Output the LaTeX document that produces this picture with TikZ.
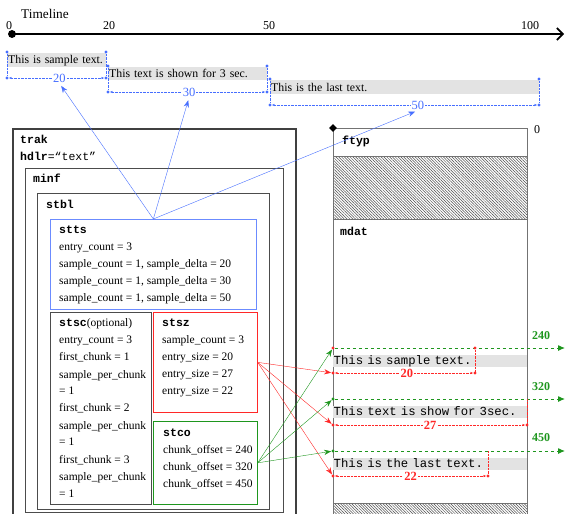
\documentclass[tikz,border=0pt]{standalone}
\usepackage{fontspec}
\setmainfont{Liberation Serif}
\setmonofont{Liberation Mono}
\usepackage{tikz}
\usetikzlibrary{calc}
\usetikzlibrary{positioning}
\usetikzlibrary{shapes.geometric}
\usetikzlibrary{patterns.meta}
\usetikzlibrary{arrows.meta}
\definecolor{dimBlue}{RGB}{70,110,255}
\definecolor{offGreen}{RGB}{30,150,30}
\definecolor{sizeRed}{RGB}{255,40,40}
\tikzstyle{box} = [draw, rectangle, anchor=north west, inner sep=0pt]
\tikzstyle{boxtext} = [anchor=west, inner sep=0pt, text height=1.5ex, text depth=.25ex, font=\fontsize{11.5}{13}\selectfont]
\tikzstyle{boxtitle} = [anchor=west, inner sep=0pt, text height=1.5ex, text depth=.25ex, font=\fontsize{11.5}{13}\ttfamily\bfseries]
\tikzstyle{subbar} = [fill=black!11, anchor=north west, inner sep=1pt, align=left, font=\fontsize{11.8}{13}\selectfont]
\tikzstyle{monobar} = [fill=black!11, anchor=north west, inner sep=0.5pt, align=left, text height=1.5ex, text depth=.25ex, font=\fontsize{12.3}{13}\ttfamily]
\tikzstyle{hatch} = [draw=black!55, pattern={Lines[angle=-45, distance=2pt, line width=0.5pt]}, pattern color=black!70]
\tikzstyle{handle} = [circle, fill, inner sep=1.2pt]
\tikzstyle{dimlabel} = [fill=white, inner sep=1pt, font=\fontsize{12.5}{13}\selectfont]
\tikzstyle{dimBlueLine} = [dimBlue, densely dotted, {Stealth[length=3pt]}-{Stealth[length=3pt]}]
\tikzstyle{dimRedLine} = [sizeRed, densely dotted, {Stealth[length=3pt]}-{Stealth[length=3pt]}]

\begin{document}
\begin{tikzpicture}[x=1pt, y=-1pt]
    \useasboundingbox (0,0) rectangle (565,514);

    % timeline on top
    \node[font=\fontsize{13.3}{15}\selectfont] (tl_title) at (45,14) {Timeline};
    \node[circle, fill, inner sep=2.8pt] (tl_start) at (12,34) {};
    \coordinate (tl_end) at (564,34);
    \draw[line width=1.6pt, -{Straight Barb[length=6pt, width=12pt]}] (tl_start.center) -- (tl_end);
    \node[font=\fontsize{12}{13}\selectfont] (tl_0) at (9,26) {0};
    \node[font=\fontsize{12}{13}\selectfont] (tl_20) at (109,26) {20};
    \node[font=\fontsize{12}{13}\selectfont] (tl_50) at (269,26) {50};
    \node[font=\fontsize{12}{13}\selectfont] (tl_100) at (530,26) {100};

    % subtitles shown on the timeline
    \node[subbar, minimum width=99, minimum height=14, text width=97] (sub1_text) at (7,53) {This is sample text.};
    \node[subbar, minimum width=159, minimum height=13, text width=157] (sub2_text) at (108,67) {This text is shown for 3 sec.};
    \node[subbar, minimum width=269, minimum height=14, text width=267] (sub3_text) at (270,80) {This is the last text.};

    \node[handle, dimBlue] (s1_tl) at (7,52) {};
    \node[handle, dimBlue] (s1_tr) at (106,52) {};
    \node[handle, dimBlue] (s1_bl) at (7,78) {};
    \node[handle, dimBlue] (s1_br) at (106,78) {};
    \draw[dimBlue, densely dotted] (s1_tl) -- (s1_bl);
    \draw[dimBlue, densely dotted] (s1_tr) -- (s1_br);
    \draw[dimBlueLine] (s1_bl) -- (s1_br);
    \node[dimlabel, text=dimBlue] (s1_len) at ($(s1_bl)!0.53!(s1_br)$) {20};

    \node[handle, dimBlue] (s2_tl) at (108,66) {};
    \node[handle, dimBlue] (s2_tr) at (267,66) {};
    \node[handle, dimBlue] (s2_bl) at (108,92) {};
    \node[handle, dimBlue] (s2_br) at (267,92) {};
    \draw[dimBlue, densely dotted] (s2_tl) -- (s2_bl);
    \draw[dimBlue, densely dotted] (s2_tr) -- (s2_br);
    \draw[dimBlueLine] (s2_bl) -- (s2_br);
    \node[dimlabel, text=dimBlue] (s2_len) at ($(s2_bl)!0.51!(s2_br)$) {30};

    \node[handle, dimBlue] (s3_tl) at (270,79) {};
    \node[handle, dimBlue] (s3_tr) at (539,79) {};
    \node[handle, dimBlue] (s3_bl) at (270,105) {};
    \node[handle, dimBlue] (s3_br) at (539,105) {};
    \draw[dimBlue, densely dotted] (s3_tl) -- (s3_bl);
    \draw[dimBlue, densely dotted] (s3_tr) -- (s3_br);
    \draw[dimBlueLine] (s3_bl) -- (s3_br);
    \node[dimlabel, text=dimBlue] (s3_len) at ($(s3_bl)!0.55!(s3_br)$) {50};

    % trak box and its children
    \node[box, draw=black!75, line width=1.5pt, minimum width=283, minimum height=400] (trak_box) at (12,128) {};
    \node[boxtitle] (trak_name) at ($(trak_box.north west)+(8,13)$) {trak};
    \node[boxtitle] (hdlr_name) at ($(trak_box.north west)+(8,30)$) {hdlr\mdseries=“text”};

    \node[box, draw=black!70, line width=0.8pt, minimum width=258, minimum height=344] (minf_box) at (25,168) {};
    \node[boxtitle] (minf_name) at ($(minf_box.north west)+(8,12)$) {minf};

    \node[box, draw=black!70, line width=0.8pt, minimum width=232, minimum height=316] (stbl_box) at (37,193) {};
    \node[boxtitle] (stbl_name) at ($(stbl_box.north west)+(9,13)$) {stbl};

    \node[box, draw=dimBlue!80, line width=0.7pt, minimum width=206, minimum height=90] (stts_box) at (50,219) {};
    \node[boxtitle] (stts_name) at ($(stts_box.north west)+(9,12)$) {stts};
    \node[boxtext] (stts_l1) at ($(stts_box.north west)+(9,29)$) {entry\_count = 3};
    \node[boxtext] (stts_l2) at ($(stts_box.north west)+(9,46)$) {sample\_count = 1, sample\_delta = 20};
    \node[boxtext] (stts_l3) at ($(stts_box.north west)+(9,63)$) {sample\_count = 1, sample\_delta = 30};
    \node[boxtext] (stts_l4) at ($(stts_box.north west)+(9,80)$) {sample\_count = 1, sample\_delta = 50};

    \node[box, draw=black!70, line width=0.8pt, minimum width=101, minimum height=192] (stsc_box) at (50,312) {};
    \node[boxtitle] (stsc_name) at ($(stsc_box.north west)+(9,12)$) {stsc\mdseries\rmfamily(optional)};
    \node[boxtext] (stsc_l1) at ($(stsc_box.north west)+(9,29)$) {entry\_count = 3};
    \node[boxtext] (stsc_l2) at ($(stsc_box.north west)+(9,46)$) {first\_chunk = 1};
    \node[boxtext] (stsc_l3) at ($(stsc_box.north west)+(9,64)$) {sample\_per\_chunk};
    \node[boxtext] (stsc_l4) at ($(stsc_box.north west)+(9,80)$) {= 1};
    \node[boxtext] (stsc_l5) at ($(stsc_box.north west)+(9,97)$) {first\_chunk = 2};
    \node[boxtext] (stsc_l6) at ($(stsc_box.north west)+(9,115)$) {sample\_per\_chunk};
    \node[boxtext] (stsc_l7) at ($(stsc_box.north west)+(9,131)$) {= 1};
    \node[boxtext] (stsc_l8) at ($(stsc_box.north west)+(9,149)$) {first\_chunk = 3};
    \node[boxtext] (stsc_l9) at ($(stsc_box.north west)+(9,166)$) {sample\_per\_chunk};
    \node[boxtext] (stsc_l10) at ($(stsc_box.north west)+(9,183)$) {= 1};

    \node[box, draw=sizeRed, line width=0.7pt, minimum width=104, minimum height=100] (stsz_box) at (153,312) {};
    \node[boxtitle] (stsz_name) at ($(stsz_box.north west)+(9,12)$) {stsz};
    \node[boxtext] (stsz_l1) at ($(stsz_box.north west)+(9,29)$) {sample\_count = 3};
    \node[boxtext] (stsz_l2) at ($(stsz_box.north west)+(9,46)$) {entry\_size = 20};
    \node[boxtext] (stsz_l3) at ($(stsz_box.north west)+(9,63)$) {entry\_size = 27};
    \node[boxtext] (stsz_l4) at ($(stsz_box.north west)+(9,80)$) {entry\_size = 22};

    \node[box, draw=offGreen, line width=0.7pt, minimum width=104, minimum height=83] (stco_box) at (153,421) {};
    \node[boxtitle] (stco_name) at ($(stco_box.north west)+(10,13)$) {stco};
    \node[boxtext] (stco_l1) at ($(stco_box.north west)+(10,30)$) {chunk\_offset = 240};
    \node[boxtext] (stco_l2) at ($(stco_box.north west)+(10,47)$) {chunk\_offset = 320};
    \node[boxtext] (stco_l3) at ($(stco_box.north west)+(10,64)$) {chunk\_offset = 450};

    % the file itself
    \node[box, draw=black!55, line width=1.2pt, minimum width=194, minimum height=400] (file_box) at (333,128) {};
    \node[diamond, fill, inner sep=2pt] (file_start) at (333,128) {};
    \node[font=\fontsize{12}{13}\selectfont] (file_zero) at (537,130) {0};
    \node[boxtitle] (ftyp_name) at ($(file_box.north west)+(9,14)$) {ftyp};
    \node[box, hatch, minimum width=194, minimum height=63] (free_hatch) at (333,156) {};
    \node[boxtitle] (mdat_name) at ($(free_hatch.south west)+(7,13)$) {mdat};
    \node[box, hatch, minimum width=194, minimum height=20] (tail_hatch) at (333,503) {};

    % samples inside mdat
    \node[monobar, minimum width=194, minimum height=12, text width=193] (row1_text) at (333,355) {This is sample text.};
    \node[monobar, minimum width=194, minimum height=12, text width=193] (row2_text) at (333,406) {This text is show for 3sec.};
    \node[monobar, minimum width=194, minimum height=12, text width=193] (row3_text) at (333,458) {This is the last text.};

    % chunk offsets
    \node[handle, sizeRed] (o240) at (333,348) {};
    \node[handle, offGreen] (o320) at (333,399) {};
    \node[handle, offGreen] (o450) at (333,451) {};
    \coordinate (o240_end) at (565,348);
    \coordinate (o320_end) at (565,399);
    \coordinate (o450_end) at (565,451);
    \draw[offGreen, dashed, line width=1pt, -{Latex[length=7pt, width=6pt]}] (o240) -- (o240_end);
    \draw[offGreen, dashed, line width=1pt, -{Latex[length=7pt, width=6pt]}] (o320) -- (o320_end);
    \draw[offGreen, dashed, line width=1pt, -{Latex[length=7pt, width=6pt]}] (o450) -- (o450_end);
    \node[text=offGreen, font=\fontsize{12}{13}\selectfont\bfseries] (o240_label) at (541,336) {240};
    \node[text=offGreen, font=\fontsize{12}{13}\selectfont\bfseries] (o320_label) at (541,387) {320};
    \node[text=offGreen, font=\fontsize{12}{13}\selectfont\bfseries] (o450_label) at (541,438) {450};

    % sample sizes
    \node[handle, sizeRed] (r1_t) at (475,348) {};
    \node[handle, sizeRed] (r1_l) at (333,373) {};
    \node[handle, sizeRed] (r1_r) at (475,373) {};
    \draw[sizeRed, densely dotted] (r1_t) -- (r1_r);
    \draw[dimRedLine] (r1_l) -- (r1_r);
    \node[dimlabel, text=sizeRed, font=\fontsize{12.5}{13}\selectfont\bfseries] (r1_len) at ($(r1_l)!0.52!(r1_r)$) {20};

    \coordinate (r2_t) at (527,399);
    \node[handle, sizeRed] (r2_l) at (333,425) {};
    \node[handle, sizeRed] (r2_r) at (527,425) {};
    \draw[sizeRed, densely dotted] (r2_t) -- (r2_r);
    \draw[dimRedLine] (r2_l) -- (r2_r);
    \node[dimlabel, text=sizeRed, font=\fontsize{12.5}{13}\selectfont\bfseries] (r2_len) at ($(r2_l)!0.5!(r2_r)$) {27};

    \coordinate (r3_t) at (488,451);
    \node[handle, sizeRed] (r3_l) at (333,476) {};
    \node[handle, sizeRed] (r3_r) at (488,476) {};
    \draw[sizeRed, densely dotted] (r3_t) -- (r3_r);
    \draw[dimRedLine] (r3_l) -- (r3_r);
    \node[dimlabel, text=sizeRed, font=\fontsize{12.5}{13}\selectfont\bfseries] (r3_len) at ($(r3_l)!0.5!(r3_r)$) {22};

    % links between the tables and the data
    \draw[dimBlue, -{Stealth[length=7pt]}, shorten >=3pt] (stts_box.north) -- (s1_len.south);
    \draw[dimBlue, -{Stealth[length=7pt]}, shorten >=3pt] (stts_box.north) -- (s2_len.south);
    \draw[dimBlue, -{Stealth[length=7pt]}, shorten >=3pt] (stts_box.north) -- (s3_len.south);

    \draw[sizeRed, -{Stealth[length=7pt]}] (stsz_box.east) -- (r1_l);
    \draw[sizeRed, -{Stealth[length=7pt]}] (stsz_box.east) -- (r2_l);
    \draw[sizeRed, -{Stealth[length=7pt]}] (stsz_box.east) -- (r3_l);

    \draw[offGreen, -{Stealth[length=7pt]}] (stco_box.east) -- (o240);
    \draw[offGreen, -{Stealth[length=7pt]}] (stco_box.east) -- (o320);
    \draw[offGreen, -{Stealth[length=7pt]}] (stco_box.east) -- (o450);
\end{tikzpicture}
\end{document}
